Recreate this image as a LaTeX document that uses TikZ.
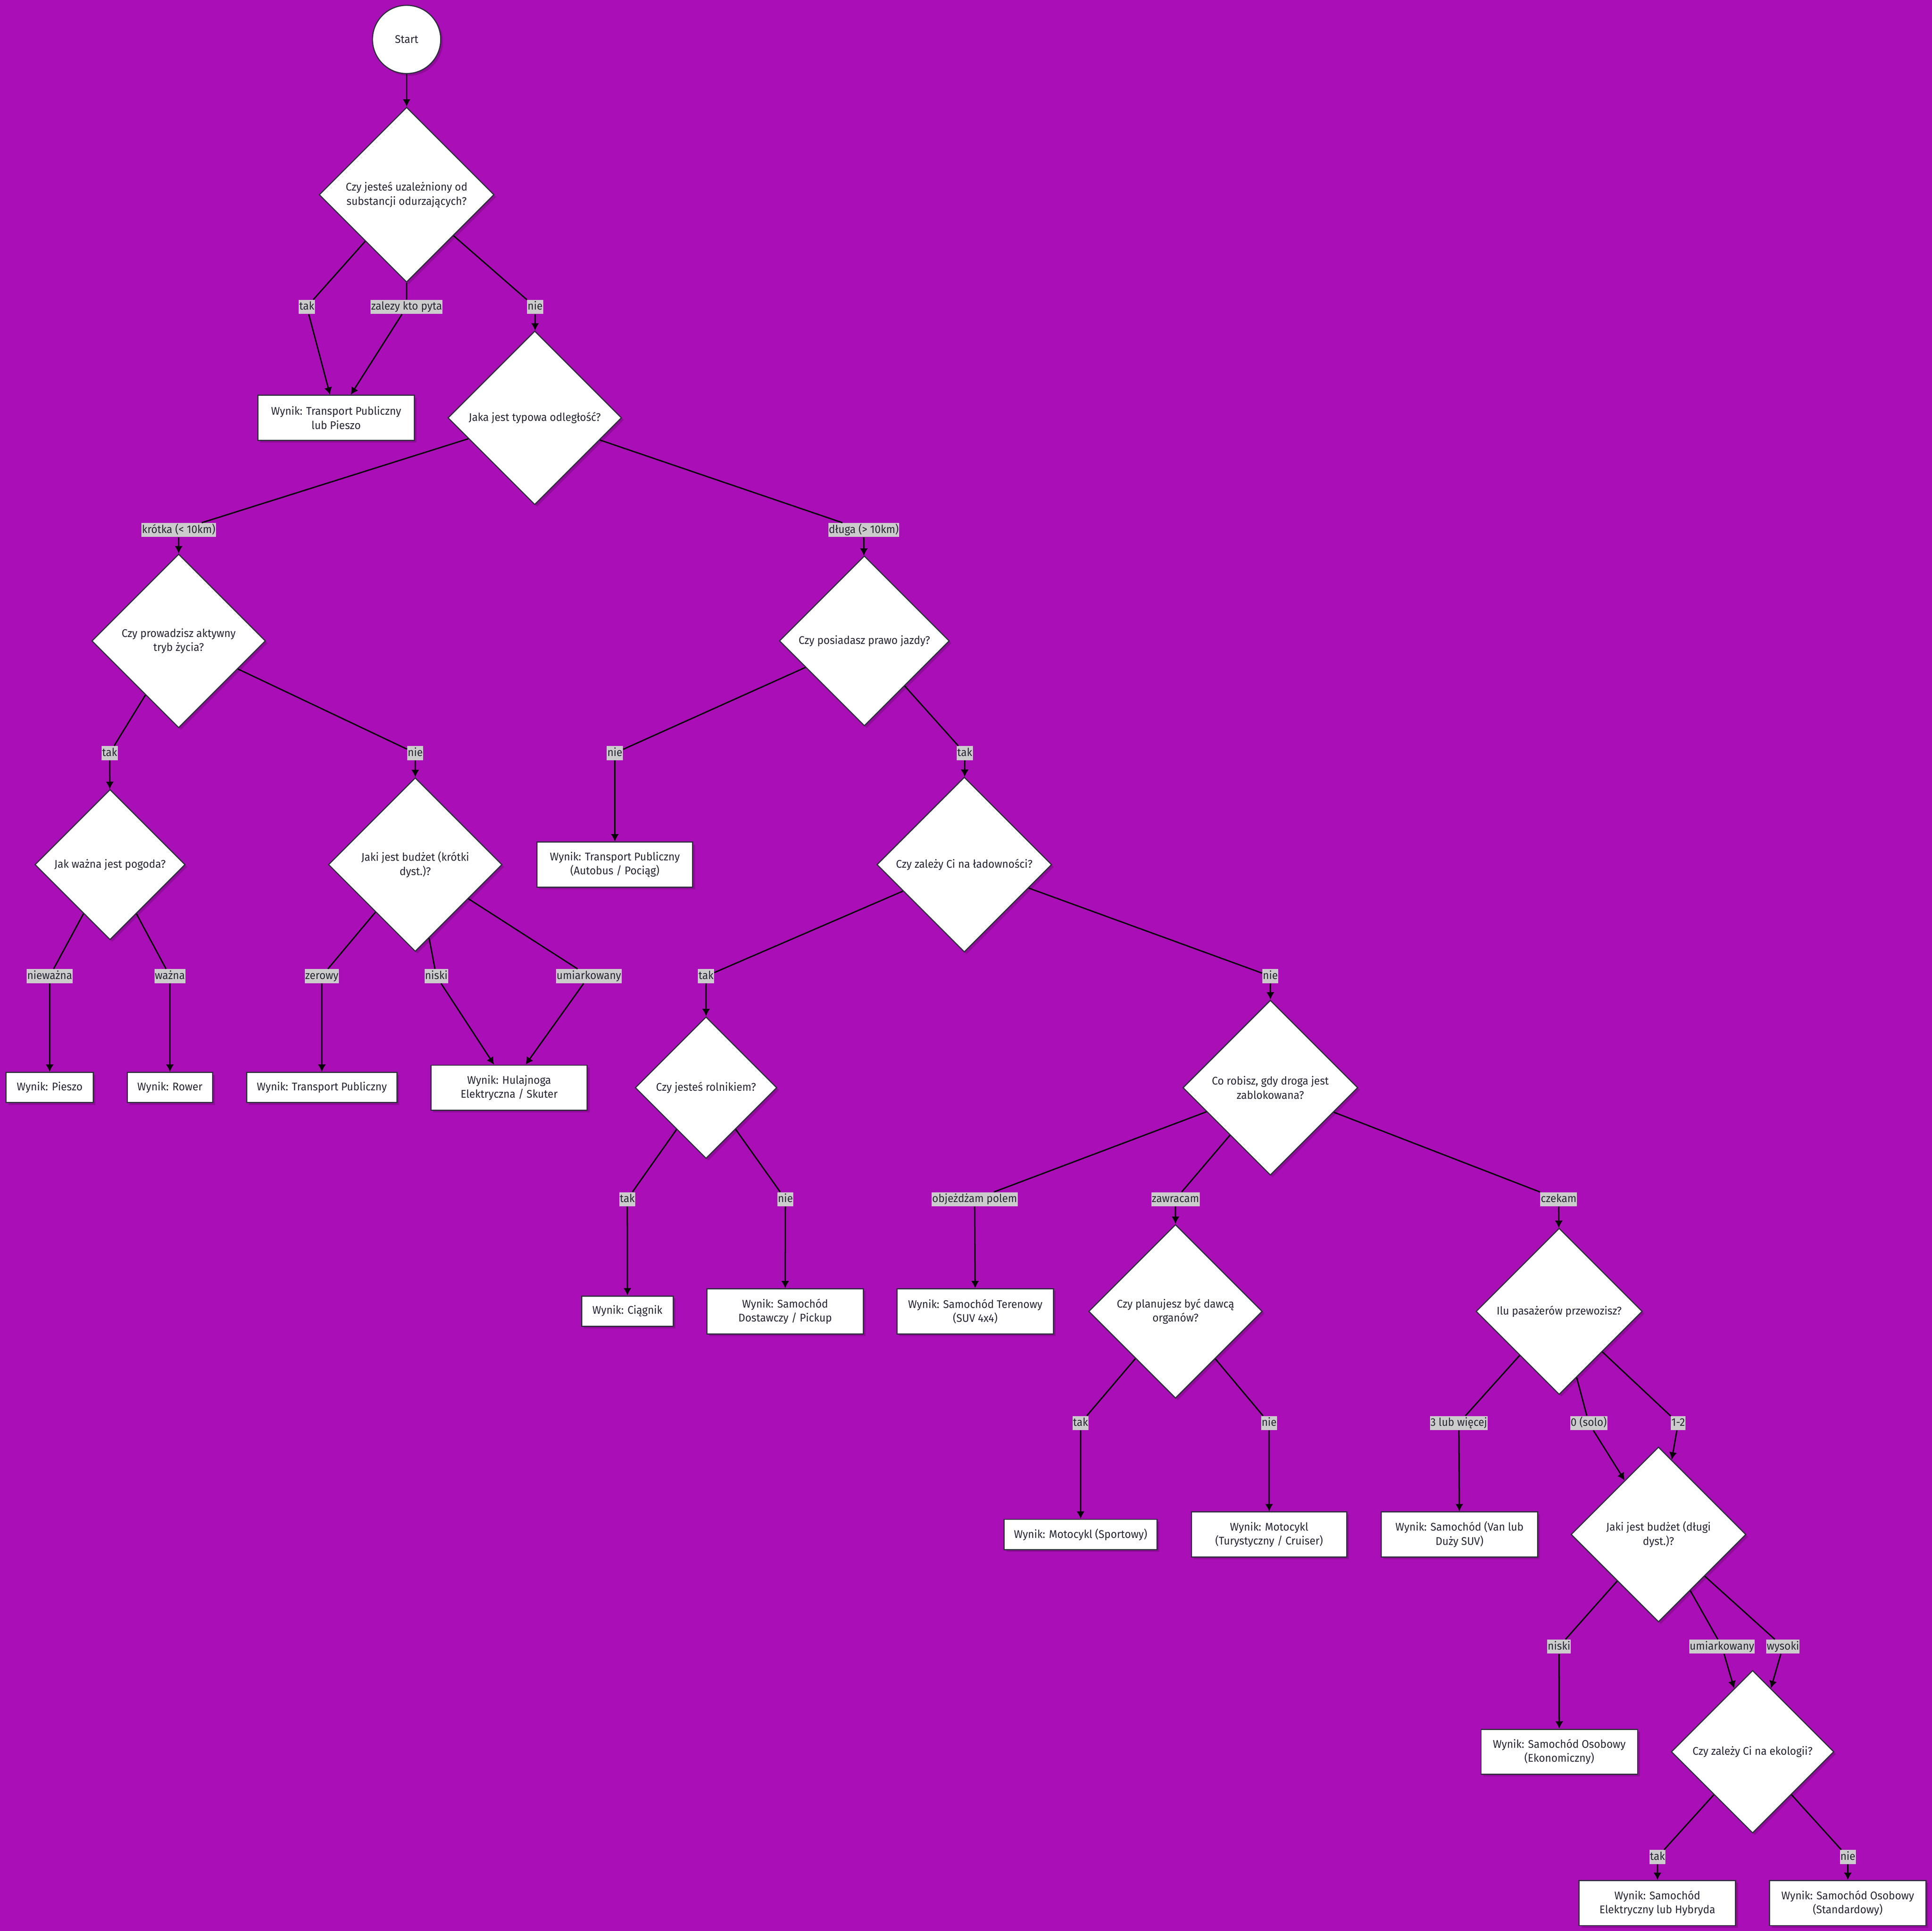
\documentclass[tikz,border=0pt]{standalone}
\usepackage{fontspec}
\setmainfont[FakeStretch=0.96]{Fira Sans}
\usetikzlibrary{arrows.meta, shapes.geometric, shadows}

\definecolor{bgpurple}{RGB}{170,14,182}
\definecolor{ink}{RGB}{38,38,52}
\definecolor{rim}{RGB}{45,45,60}

\begin{document}
\begin{tikzpicture}[x=1pt, y=-1pt, >={Latex[length=6pt, width=6.5pt]},
    font=\fontsize{9}{11.4}\selectfont,
    box/.style={draw=rim, line width=0.9pt, fill=white, text=ink, align=center,
        drop shadow={shadow xshift=1.8pt, shadow yshift=-1.8pt, fill=black, opacity=.15}},
    decision/.style={box, diamond, aspect=1, inner sep=0pt, minimum width=#1, minimum height=#1},
    result/.style={box, rectangle, inner sep=0pt, minimum width=#1, minimum height=24.5pt},
    result2/.style={box, rectangle, inner sep=0pt, minimum width=#1, minimum height=36.5pt},
    lbl/.style={fill=black!20, text=ink, inner xsep=0.4pt, inner ysep=1.2pt, text height=7pt, text depth=2pt},
    flow/.style={->, black, line width=1.1pt}]

% background (page size)
\fill[bgpurple] (0, 0) rectangle (1568, 1566.6);

\node[box, circle, minimum size=55.4pt, inner sep=0pt] (start) at (330, 32) {Start};

% questions
\node[decision=142pt] (qAddict) at (330, 158) {Czy jesteś uzależniony od\\substancji odurzających?};
\node[decision=141pt] (qDist) at (434, 339) {Jaka jest typowa odległość?};
\node[decision=141pt] (qActive) at (145, 520) {Czy prowadzisz aktywny\\tryb życia?};
\node[decision=138pt] (qLicense) at (701.5, 520) {Czy posiadasz prawo jazdy?};
\node[decision=122pt] (qWeather) at (89.3, 701.5) {Jak ważna jest pogoda?};
\node[decision=141pt] (qBudgetS) at (337, 701.5) {Jaki jest budżet (krótki\\dyst.)?};
\node[decision=142pt] (qLoad) at (782.6, 701.5) {Czy zależy Ci na ładowności?};
\node[decision=115pt] (qFarmer) at (573, 882.5) {Czy jesteś rolnikiem?};
\node[decision=142pt] (qBlock) at (1031, 882.5) {Co robisz, gdy droga jest\\zablokowana?};
\node[decision=141pt] (qDonor) at (954, 1064) {Czy planujesz być dawcą\\organów?};
\node[decision=135pt] (qPass) at (1265.4, 1064) {Ilu pasażerów przewozisz?};
\node[decision=142pt] (qBudgetL) at (1346, 1245) {Jaki jest budżet (długi\\dyst.)?};
\node[decision=132pt] (qEco) at (1422.4, 1421.3) {Czy zależy Ci na ekologii?};

% results
\node[result2=127pt] (rPubWalk) at (272.8, 339) {Wynik: Transport Publiczny\\lub Pieszo};
\node[result2=126.5pt] (rPubBus) at (499, 701.5) {Wynik: Transport Publiczny\\(Autobus / Pociąg)};
\node[result=70.7pt] (rWalk) at (40.3, 882.4) {Wynik: Pieszo};
\node[result=69.4pt] (rBike) at (137.9, 882.4) {Wynik: Rower};
\node[result=122.2pt] (rPublic) at (261.2, 882.4) {Wynik: Transport Publiczny};
\node[result2=126.8pt] (rScooter) at (413.2, 882.5) {Wynik: Hulajnoga\\Elektryczna / Skuter};
\node[result=74.4pt] (rTractor) at (509.2, 1063.8) {Wynik: Ciągnik};
\node[result2=127pt] (rPickup) at (637.2, 1064) {Wynik: Samochód\\Dostawczy / Pickup};
\node[result2=127pt] (rOffroad) at (791.5, 1064) {Wynik: Samochód Terenowy\\(SUV 4x4)};
\node[result=124pt] (rSport) at (877, 1245) {Wynik: Motocykl (Sportowy)};
\node[result2=126pt] (rCruiser) at (1030, 1245) {Wynik: Motocykl\\(Turystyczny / Cruiser)};
\node[result2=127pt] (rVan) at (1184.5, 1245) {Wynik: Samochód (Van lub\\Duży SUV)};
\node[result2=127pt] (rEconomy) at (1265.5, 1421.3) {Wynik: Samochód Osobowy\\(Ekonomiczny)};
\node[result2=127pt] (rElectric) at (1345.1, 1544.1) {Wynik: Samochód\\Elektryczny lub Hybryda};
\node[result2=127pt] (rStandard) at (1499.6, 1544.1) {Wynik: Samochód Osobowy\\(Standardowy)};

% edge labels
\node[lbl] (lAddictYes) at (249, 249) {tak};
\node[lbl] (lAddictMaybe) at (330, 249) {zalezy kto pyta};
\node[lbl] (lAddictNo) at (434.3, 249) {nie};
\node[lbl] (lShort) at (145, 430) {krótka (< 10km)};
\node[lbl] (lLong) at (701, 430) {długa (> 10km)};
\node[lbl] (lActiveYes) at (89, 611) {tak};
\node[lbl] (lActiveNo) at (337, 611) {nie};
\node[lbl] (lLicenseNo) at (499, 611) {nie};
\node[lbl] (lLicenseYes) at (783, 611) {tak};
\node[lbl] (lWeatherNo) at (40.3, 792) {nieważna};
\node[lbl] (lWeatherYes) at (137.9, 792) {ważna};
\node[lbl] (lZero) at (261.2, 792) {zerowy};
\node[lbl] (lLowS) at (354.1, 792) {niski};
\node[lbl] (lMidS) at (477.9, 792) {umiarkowany};
\node[lbl] (lLoadYes) at (573, 792) {tak};
\node[lbl] (lLoadNo) at (1031, 792) {nie};
\node[lbl] (lFarmerYes) at (509.1, 973) {tak};
\node[lbl] (lFarmerNo) at (637.4, 973) {nie};
\node[lbl] (lField) at (791, 973) {objeżdżam polem};
\node[lbl] (lBack) at (954, 973) {zawracam};
\node[lbl] (lWait) at (1265, 973) {czekam};
\node[lbl] (lDonorYes) at (877, 1154.6) {tak};
\node[lbl] (lDonorNo) at (1030, 1154.6) {nie};
\node[lbl] (lThree) at (1184, 1154.6) {3 lub więcej};
\node[lbl] (lSolo) at (1289.4, 1154.6) {0 (solo)};
\node[lbl] (lOneTwo) at (1362, 1154.6) {1-2};
\node[lbl] (lLowL) at (1265.3, 1336) {niski};
\node[lbl] (lMidL) at (1397.5, 1336) {umiarkowany};
\node[lbl] (lHigh) at (1447, 1336) {wysoki};
\node[lbl] (lEcoYes) at (1345.2, 1506.7) {tak};
\node[lbl] (lEcoNo) at (1499.7, 1506.7) {nie};

% connectors
\draw[flow] (start) -- (qAddict);
\draw[flow] (qAddict) -- (lAddictYes) -- (rPubWalk);
\draw[flow] (qAddict) -- (lAddictMaybe) -- (rPubWalk);
\draw[flow] (qAddict) -- (lAddictNo) -- (qDist);
\draw[flow] (qDist) -- (lShort) -- (qActive);
\draw[flow] (qDist) -- (lLong) -- (qLicense);
\draw[flow] (qActive) -- (lActiveYes) -- (qWeather);
\draw[flow] (qActive) -- (lActiveNo) -- (qBudgetS);
\draw[flow] (qLicense) -- (lLicenseNo) -- (rPubBus);
\draw[flow] (qLicense) -- (lLicenseYes) -- (qLoad);
\draw[flow] (qWeather) -- (lWeatherNo) -- (rWalk);
\draw[flow] (qWeather) -- (lWeatherYes) -- (rBike);
\draw[flow] (qBudgetS) -- (lZero) -- (rPublic);
\draw[flow] (qBudgetS) -- (lLowS) -- (rScooter);
\draw[flow] (qBudgetS) -- (lMidS) -- (rScooter);
\draw[flow] (qLoad) -- (lLoadYes) -- (qFarmer);
\draw[flow] (qLoad) -- (lLoadNo) -- (qBlock);
\draw[flow] (qFarmer) -- (lFarmerYes) -- (rTractor);
\draw[flow] (qFarmer) -- (lFarmerNo) -- (rPickup);
\draw[flow] (qBlock) -- (lField) -- (rOffroad);
\draw[flow] (qBlock) -- (lBack) -- (qDonor);
\draw[flow] (qBlock) -- (lWait) -- (qPass);
\draw[flow] (qDonor) -- (lDonorYes) -- (rSport);
\draw[flow] (qDonor) -- (lDonorNo) -- (rCruiser);
\draw[flow] (qPass) -- (lThree) -- (rVan);
\draw[flow] (qPass) -- (lSolo) -- (qBudgetL);
\draw[flow] (qPass) -- (lOneTwo) -- (qBudgetL);
\draw[flow] (qBudgetL) -- (lLowL) -- (rEconomy);
\draw[flow] (qBudgetL) -- (lMidL) -- (qEco);
\draw[flow] (qBudgetL) -- (lHigh) -- (qEco);
\draw[flow] (qEco) -- (lEcoYes) -- (rElectric);
\draw[flow] (qEco) -- (lEcoNo) -- (rStandard);

\end{tikzpicture}
\end{document}
